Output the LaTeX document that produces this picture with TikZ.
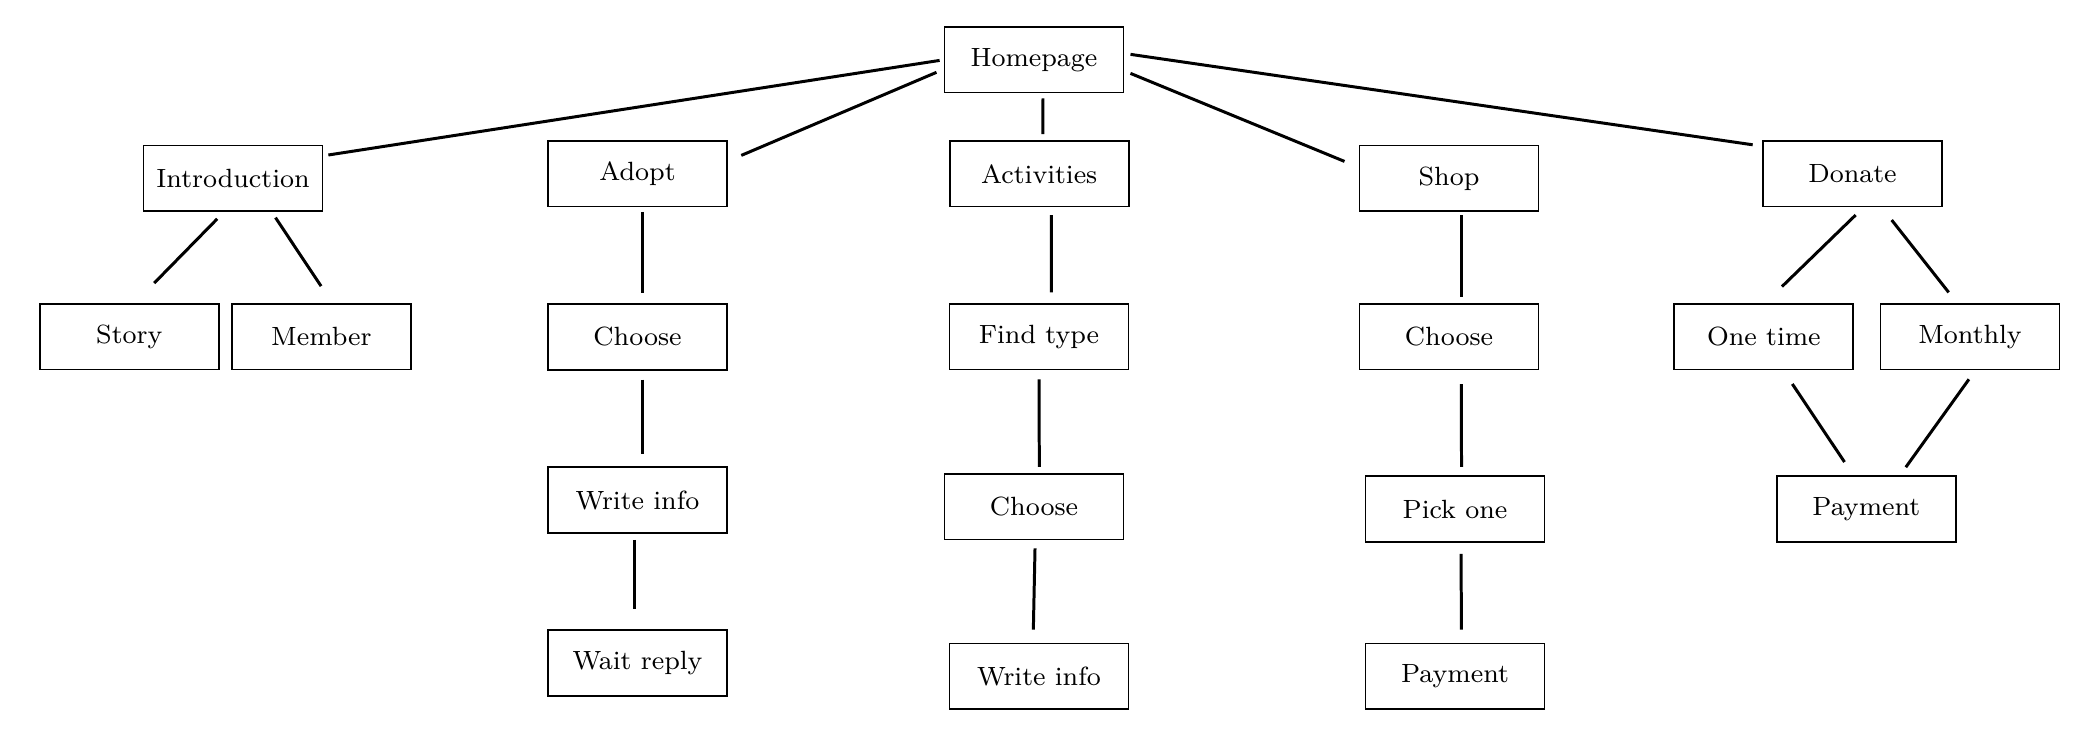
\documentclass[tikz,border=0pt]{standalone}
\usepackage{tikz}
\usetikzlibrary{calc}

\begin{document}
\begin{tikzpicture}[x=0.01cm,y=-0.01cm,node distance=1.63cm,
	main node/.style={rectangle,draw,line width=0.5pt,minimum width=1.79cm,
		minimum height=0.655cm,inner sep=0pt,font=\fontsize{7.5}{9}\selectfont}]
	
	\useasboundingbox (0,0) rectangle (2100,748);
	
	% top level
	\node[main node] (0) at (1034,59.8) {Homepage};
	\node[main node] (1) at (233,178.3) {Introduction};
	\node[main node] (2) at (637.5,173.8) {Adopt};
	\node[main node] (3) at (1039.2,173.8) {Activities};
	\node[main node] (4) at (1449,178.3) {Shop};
	\node[main node] (5) at (1852.5,173.8) {Donate};
	
	% second row
	\node[main node] (6) at (129.3,336.7) {Story};
	\node[main node] (7) at (321.4,336.7) {Member};
	\node[main node] (8) [below of=2] {Choose};
	\node[main node] (9) at (1039,336.7) {Find type};
	\node[main node] (10) at (1449,336.7) {Choose};
	\node[main node] (11) at (1763.8,336.7) {One time};
	\node[main node] (12) at (1970,336.7) {Monthly};
	
	% lower rows
	\node[main node] (13) [below of=8] {Write info};
	\node[main node] (14) at (1034,506.7) {Choose};
	\node[main node] (15) at (1455,509) {Pick one};
	\node[main node] (16) at (1866.3,509) {Payment};
	\node[main node] (17) [below of=13] {Wait reply};
	\node[main node] (18) at (1039,676.3) {Write info};
	\node[main node] (19) at (1455,676.3) {Payment};
	
	\path[every edge/.style={draw,line width=0.85pt}]
	(0.west) edge[shorten <=0.04cm,shorten >=0.05cm] (1.14)
	(0.186) edge[shorten <=0.077cm,shorten >=0.145cm] (2.8)
	(0.285) edge[shorten <=0.05cm,shorten >=0.06cm] (3.84)
	(0.353) edge[shorten <=0.065cm,shorten >=0.152cm] (4.173)
	(0.4) edge[shorten <=0.061cm,shorten >=0.095cm] (5.163)
	(1.255) edge[shorten <=0.096cm,shorten >=0.28cm] (6.81)
	(1.319) edge[shorten <=0.068cm,shorten >=0.203cm] (7.72)
	(2.279) edge[shorten <=0.043cm,shorten >=0.107cm] (8.81)
	(3.290) edge[shorten <=0.076cm,shorten >=0.107cm] (9.70)
	(4.290) edge[shorten <=0.033cm,shorten >=0.063cm] (10.70)
	(5.288) edge[shorten <=0.108cm,shorten >=0.237cm] (11.88)
	(5.311) edge[shorten <=0.16cm,shorten >=0.136cm] (12.111)
	(8.279) edge[shorten <=0.09cm,shorten >=0.123cm] (13.81)
	(9.south) edge[shorten <=0.09cm,shorten >=0.063cm] (14.81)
	(10.290) edge[shorten <=0.137cm,shorten >=0.086cm] (15.79)
	(11.300) edge[shorten <=0.164cm,shorten >=0.16cm] (16.111)
	(12.279) edge[shorten <=0.11cm,shorten >=0.10cm] (16.45)
	(13.265) edge[shorten <=0.063cm,shorten >=0.20cm] (17.95)
	(14.272) edge[shorten <=0.08cm,shorten >=0.13cm] (18.100)
	(15.280) edge[shorten <=0.113cm,shorten >=0.13cm] (19.79);
\end{tikzpicture}
\end{document}
